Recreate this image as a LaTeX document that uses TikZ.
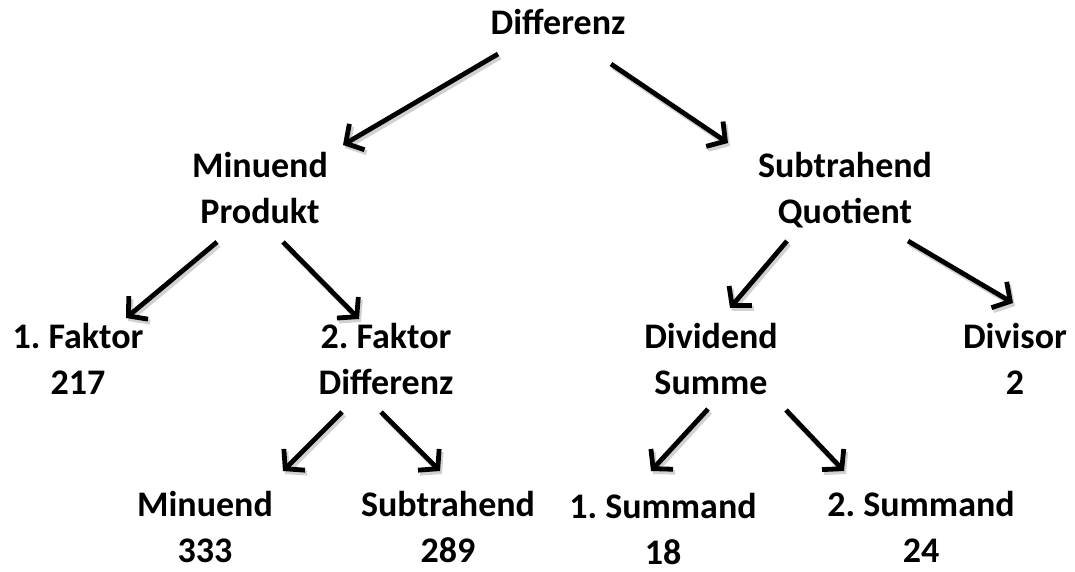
\documentclass[tikz,border=0pt]{standalone}
\usepackage{fontspec}
\setmainfont{Carlito}[BoldFont={Carlito Bold}]
\usetikzlibrary{arrows.meta,calc}
\frenchspacing
\begin{document}
\begin{tikzpicture}[x=1pt,y=-1pt,
  lbl/.style={font=\fontsize{36}{46}\selectfont\bfseries, align=center, inner sep=0pt, text depth=0pt},
  arr/.style={line width=4.8pt, -{Straight Barb[length=13pt,width=30pt]},
    preaction={draw=black!18, line width=5pt, transform canvas={shift={(2pt,-3pt)}}}}]
\useasboundingbox (0,0) rectangle (1075,572);
\node[lbl] (d)   at (558,22)  {Differenz};
\node[lbl] (mp)  at (260,188) {Minuend\\Produkt};
\node[lbl] (sq)  at (845,188) {Subtrahend\\Quotient};
\node[lbl] (f1)  at (78,359)  {1. Faktor\\217};
\node[lbl] (f2)  at (386,359) {2. Faktor\\Differenz};
\node[lbl] (ds)  at (711,359) {Dividend\\Summe};
\node[lbl] (dv)  at (1015,359){Divisor\\2};
\node[lbl] (mi)  at (205,527) {Minuend\\333};
\node[lbl] (su)  at (448,527) {Subtrahend\\289};
\node[lbl] (s1)  at (663,529) {1. Summand\\18};
\node[lbl] (s2)  at (921,527) {2. Summand\\24};
% arrows
\draw[arr] ($(d.center)+(-60,32)$) -- ($(mp.center)+(83,-43)$);
\draw[arr] ($(d.center)+(53,42)$) -- ($(sq.center)+(-117,-45)$);
\draw[arr] ($(mp.center)+(-43,54)$) -- ($(f1.center)+(48,-41)$);
\draw[arr] ($(mp.center)+(23,54)$) -- ($(f2.center)+(-27,-40)$);
\draw[arr] ($(sq.center)+(-58,53)$) -- ($(ds.center)+(19,-51)$);
\draw[arr] ($(sq.center)+(63,53)$) -- ($(dv.center)+(-2,-56)$);
\draw[arr] ($(f2.center)+(-44,53)$) -- ($(mi.center)+(78,-56)$);
\draw[arr] ($(f2.center)+(-5,53)$) -- ($(su.center)+(-8,-56)$);
\draw[arr] ($(ds.center)+(-3,50)$) -- ($(s1.center)+(-12,-58)$);
\draw[arr] ($(ds.center)+(75,51)$) -- ($(s2.center)+(-77,-56)$);
\end{tikzpicture}
\end{document}
